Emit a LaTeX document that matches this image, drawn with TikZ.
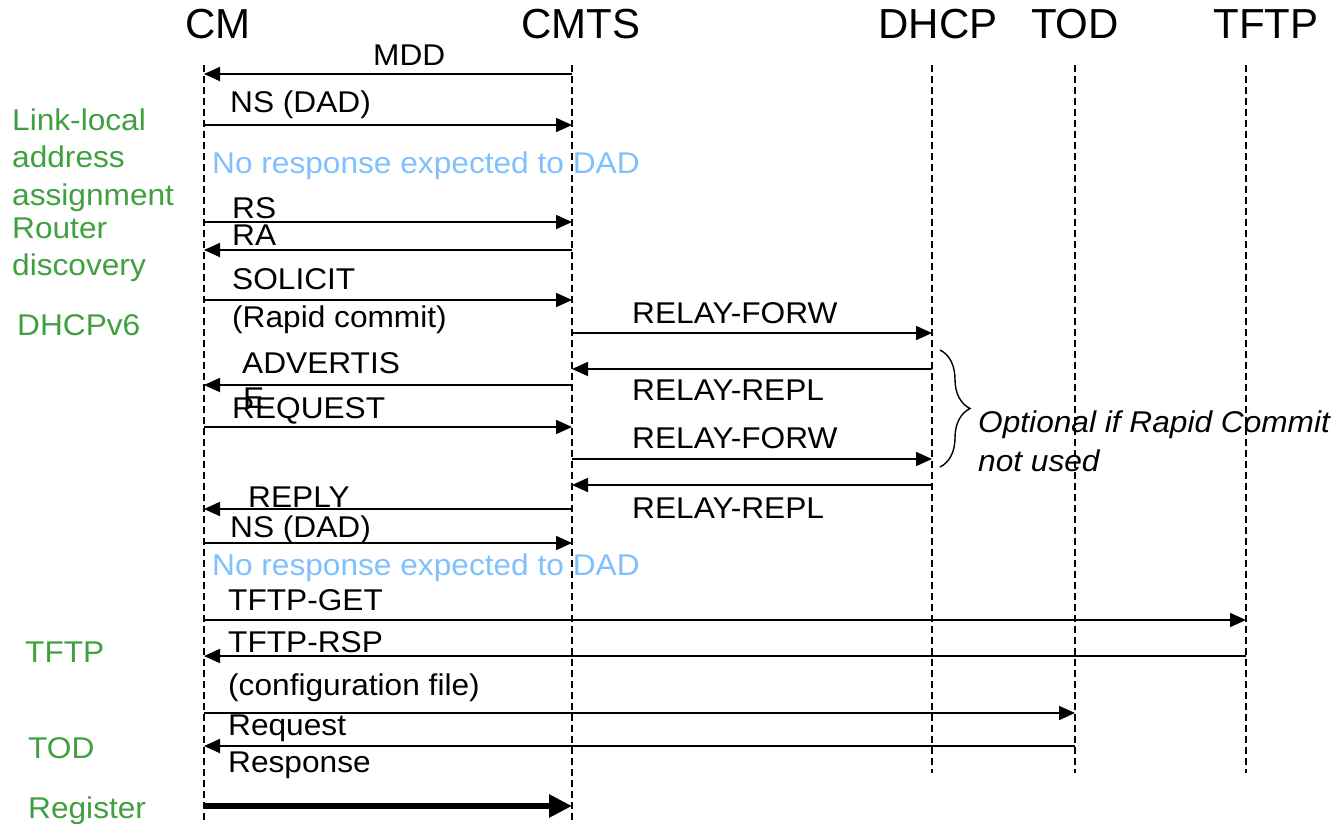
\documentclass[tikz,border=0pt]{standalone}
\usepackage{fontspec}
\setmainfont{Liberation Sans}
\newfontfamily\widefont[FakeStretch=1.055]{Liberation Sans}
\usetikzlibrary{arrows.meta,decorations.pathreplacing}
\definecolor{phasegreen}{RGB}{64,160,64}
\definecolor{noteblue}{RGB}{128,192,255}
\tikzset{
  lifeline/.style={line width=1.4pt, dash pattern=on 7pt off 4pt},
  msg/.style={line width=1.8pt, -{Triangle[length=16pt,width=14pt]}},
  bigmsg/.style={line width=6pt, -{Triangle[length=23pt,width=22pt]}},
  hdr/.style={font=\fontsize{42}{50}\selectfont, anchor=base},
  lbl/.style={font=\widefont\fontsize{30}{36}\selectfont, anchor=base west, inner sep=0pt},
  phase/.style={lbl, text=phasegreen},
  note/.style={lbl, text=noteblue}
}
\begin{document}
\begin{tikzpicture}[x=1pt,y=-1pt]
\useasboundingbox (0,0) rectangle (1336,823);
% entities
\node[hdr] (hCM) at (218,38) {CM};
\node[hdr] (hCMTS) at (581,38) {CMTS};
\node[hdr] (hDHCP) at (938,38) {DHCP};
\node[hdr] (hTOD) at (1075,38) {TOD};
\node[hdr] (hTFTP) at (1266,38) {TFTP};
\coordinate (cm) at (204,65);
\coordinate (cmts) at (572,65);
\coordinate (dhcp) at (932,65);
\coordinate (tod) at (1075,65);
\coordinate (tftp) at (1246,65);
% phases
\node[phase] (pLink1) at (12,130) {Link-local};
\node[phase] (pLink2) at (12,167) {address};
\node[phase] (pLink3) at (12,205) {assignment};
\node[phase] (pRd1) at (12,238) {Router};
\node[phase] (pRd2) at (12,275) {discovery};
\node[phase] (pDhcp) at (17,335) {DHCPv6};
\node[phase] (pTftp) at (25,662) {TFTP};
\node[phase] (pTod) at (28,758) {TOD};
\node[phase] (pReg) at (28,818) {Register};
% message labels
\foreach \x/\y/\t in {373/65/MDD, 230/112/NS (DAD), 232/218/RS, 232/245/RA,
    232/289/SOLICIT, 232/327/(Rapid commit), 632/323/RELAY-FORW,
    632/400/RELAY-REPL, 242/373/ADVERTIS, 243/408/E, 232/418/REQUEST,
    632/448/RELAY-FORW, 632/518/RELAY-REPL, 248/507/REPLY, 230/537/NS (DAD),
    228/610/TFTP-GET, 228/652/TFTP-RSP, 228/695/(configuration file),
    228/735/Request, 228/772/Response}
  \node[lbl] at (\x,\y) {\t};
\node[note] (dad1) at (212,173) {No response expected to DAD};
\node[note] (dad2) at (212,575) {No response expected to DAD};
\node[lbl, font=\widefont\fontsize{30}{36}\selectfont\itshape] (opt1) at (978,432) {Optional if Rapid Commit};
\node[lbl, font=\widefont\fontsize{30}{36}\selectfont\itshape] (opt2) at (978,471) {not used};
% lifelines
\draw[lifeline] (cm) -- ++(0,757);
\draw[lifeline] (cmts) -- ++(0,757);
\foreach \n in {dhcp,tod,tftp}
  \draw[lifeline] (\n) -- ++(0,708);
% messages
\foreach \y/\a/\b in {74/cmts/cm, 125/cm/cmts, 222/cm/cmts, 250/cmts/cm,
    300/cm/cmts, 333/cmts/dhcp, 369/dhcp/cmts, 385/cmts/cm, 427/cm/cmts,
    459/cmts/dhcp, 485/dhcp/cmts, 509/cmts/cm, 543/cm/cmts, 620/cm/tftp,
    656/tftp/cm, 713/cm/tod, 746/tod/cm}
  \draw[msg] (\a |- 0,\y) -- (\b |- 0,\y);
\draw[bigmsg] (cm |- 0,806) -- (cmts |- 0,806);
% optional part
\draw[line width=1.4pt, decorate, decoration={brace, amplitude=30pt}]
  (940,350) -- (940,467);
\end{tikzpicture}
\end{document}
